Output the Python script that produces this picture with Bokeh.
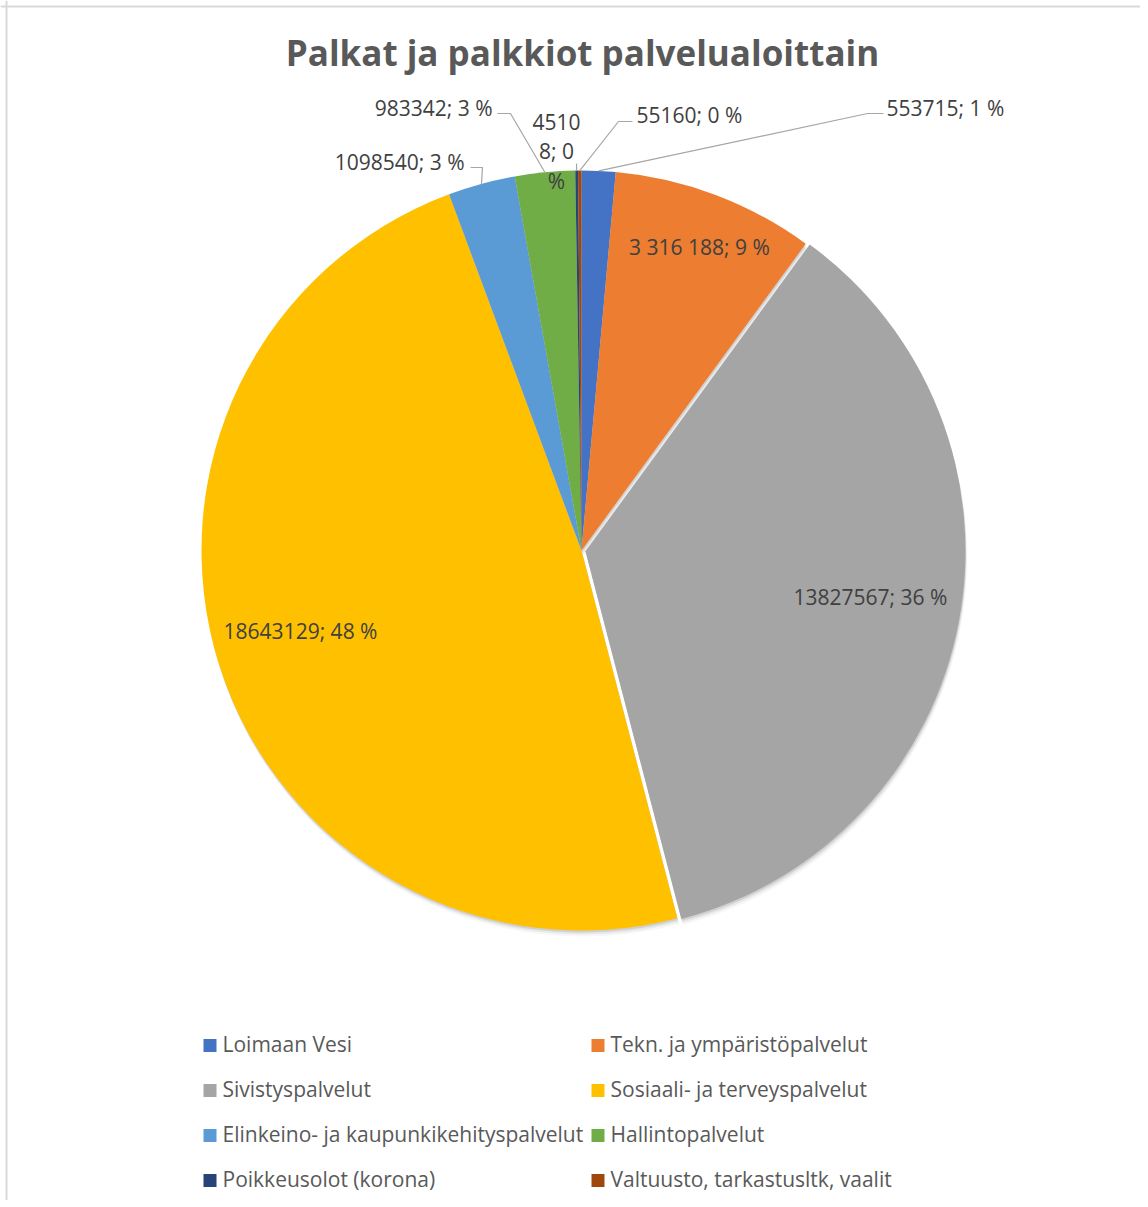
import numpy as np
import pandas as pd
from bokeh.plotting import figure
from bokeh.models import ColumnDataSource, Range1d, Span
from bokeh.core.properties import value
from bokeh.embed import file_html
from bokeh.resources import INLINE

# ---------------- data ----------------
title_text = "Palkat ja palkkiot palvelualoittain"
categories = [
    "Loimaan Vesi",
    "Tekn. ja ympäristöpalvelut",
    "Sivistyspalvelut",
    "Sosiaali- ja terveyspalvelut",
    "Elinkeino- ja kaupunkikehityspalvelut",
    "Hallintopalvelut",
    "Poikkeusolot (korona)",
    "Valtuusto, tarkastusltk, vaalit",
]
values = [553715, 3316188, 13827567, 18643129, 1098540, 983342, 45108, 55160]
colors = ["#4472C4", "#ED7D31", "#A5A5A5", "#FFC000",
          "#5B9BD5", "#70AD47", "#264478", "#9E480E"]
space_grouped = [False, True, False, False, False, False, False, False]

# ---------------- layout (picture pixel coordinates) ----------------
W, H = 1140, 1200
CX, CY, R = 581, 550, 380
FONT = "Open Sans"
explode_px = [0, 0, 4, 0, 0, 0, 0, 0]
# inner labels: (radius fraction, angle nudge in degrees)
inner_label_pos = {1: (0.852, 0.7), 2: (0.76, -1.4), 3: (0.77, 1.3)}
# outside labels: text anchor (vertical centre), alignment, leader elbow points
outside = {
    0: dict(tx=886, ty=107, align="left", path=[(867, 113), (883, 113)]),
    7: dict(tx=636, ty=114, align="left", path=[(618, 121), (632, 121)]),
    6: dict(tx=556, ty=151, align="center", path=[(576, 163)]),
    5: dict(tx=492, ty=107, align="right", path=[(510, 113), (497, 113)]),
    4: dict(tx=464, ty=161, align="right", path=[(482, 167), (470, 167)]),
}
legend_sq_x = [209.5, 597.5]
legend_txt_x = [222, 610]
legend_row_y = [1045, 1090, 1135, 1180]
TEXT_NUDGE = 1.5  # rendered text sits slightly low; lift it


def fmt_label(v, pct, grouped):
    s = f"{v:,}".replace(",", " ") if grouped else str(v)
    return f"{s}; {pct} %"


vals = np.array(values, dtype=float)
frac = vals / vals.sum()
cum = np.cumsum(frac)
th0 = 2 * np.pi * (cum - frac)       # clockwise from 12 o'clock
th1 = 2 * np.pi * cum
mid = (th0 + th1) / 2
pcts = [int(round(f * 100)) for f in frac]
labels = [fmt_label(v, pc, g) for v, pc, g in zip(values, pcts, space_grouped)]
labels[6] = labels[6][:4] + "\n" + labels[6][4:8] + "\n" + labels[6][9:]

ex = CX + np.array(explode_px) * np.sin(mid)
ey = CY - np.array(explode_px) * np.cos(mid)

src = ColumnDataSource(dict(
    x=ex, y=-ey,
    start=np.pi / 2 - th1, end=np.pi / 2 - th0,
    color=colors, cat=categories,
))

p = figure(width=W, height=H, output_backend="svg", toolbar_location=None,
           x_range=Range1d(0, W), y_range=Range1d(-H, 0),
           x_axis_location=None, y_axis_location=None, min_border=0,
           outline_line_color=None, background_fill_color="white",
           border_fill_color="white")
p.grid.visible = False

# chart frame (top and left edges visible in reference)
p.add_layout(Span(location=6, dimension="height", line_color="#d9d9d9", line_width=2))
p.add_layout(Span(location=-6, dimension="width", line_color="#d9d9d9", line_width=2))

# soft shadow
for off, a in [(2, 0.10), (4, 0.06), (6, 0.03)]:
    ssrc = ColumnDataSource(dict(x=ex + off * 0.3, y=-(ey + off),
                                 start=np.pi / 2 - th1, end=np.pi / 2 - th0))
    p.wedge(x="x", y="y", radius=R, start_angle="start", end_angle="end",
            source=ssrc, fill_color="black", fill_alpha=a, line_color=None)

p.wedge(x="x", y="y", radius=R, start_angle="start", end_angle="end",
        source=src, fill_color="color", line_color=None)

# title
p.text(x=[582], y=[-(53 - TEXT_NUDGE)], text=[title_text], text_font=value(FONT),
       text_font_size=value("35px"), text_font_style="bold",
       text_color="#595959", text_align="center", text_baseline="middle")

# inner labels
ix, iy, it = [], [], []
for i, (f, nudge) in inner_label_pos.items():
    a = mid[i] + np.deg2rad(nudge)
    ix.append(ex[i] + f * R * np.sin(a))
    iy.append(-(ey[i] - f * R * np.cos(a) - TEXT_NUDGE))
    it.append(labels[i])
p.text(x=ix, y=iy, text=it, text_font=value(FONT), text_font_size=value("21px"),
       text_color="#404040", text_align="center", text_baseline="middle")

# outside labels + leader lines
xs, ys = [], []
for i, o in outside.items():
    x0 = ex[i] + R * np.sin(mid[i])
    y0 = ey[i] - R * np.cos(mid[i])
    pts = [(x0, y0)] + o["path"]
    xs.append([q[0] for q in pts])
    ys.append([-q[1] for q in pts])
    p.text(x=[o["tx"]], y=[-o["ty"]], text=[labels[i]], text_font=value(FONT),
           text_font_size=value("21px"), text_color="#404040",
           text_align=o["align"], text_baseline="middle", text_line_height=1.05)
p.multi_line(xs=xs, ys=ys, line_color="#a6a6a6", line_width=1.2)

# legend (2 columns, row-major)
lx, ly, lc, tx, ty, tt = [], [], [], [], [], []
for i, (c, col) in enumerate(zip(categories, colors)):
    r, k = divmod(i, 2)
    lx.append(legend_sq_x[k]); ly.append(-legend_row_y[r]); lc.append(col)
    tx.append(legend_txt_x[k]); ty.append(-(legend_row_y[r] - TEXT_NUDGE)); tt.append(c)
p.rect(x=lx, y=ly, width=13, height=13, fill_color=lc, line_color=None)
p.text(x=tx, y=ty, text=tt, text_font=value(FONT), text_font_size=value("21px"),
       text_color="#595959", text_align="left", text_baseline="middle")

open("out.html", "w").write(file_html(p, INLINE))
